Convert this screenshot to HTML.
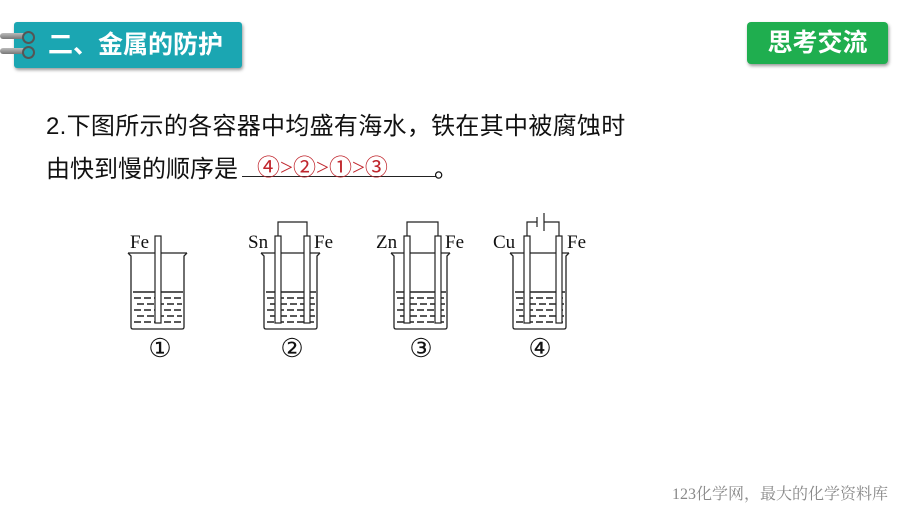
<!DOCTYPE html>
<html><head><meta charset="utf-8"><style>
body{margin:0;width:900px;height:506px;background:#fff;position:relative;overflow:hidden;font-family:"Liberation Sans","Noto Sans CJK SC",sans-serif}
.hd{position:absolute;left:14px;top:22px;width:228px;height:46px;background:#1ba6b2;border-radius:3px;box-shadow:1px 2px 3px #999;color:#fff;font-size:25px;font-weight:bold;line-height:46px;padding-left:34px;box-sizing:border-box}
.ring{position:absolute;height:6px;width:26px;background:linear-gradient(#bbb,#777);border-radius:3px;left:0}
.gr{position:absolute;left:747px;top:22px;width:141px;height:42px;background:#1fae4f;border-radius:4px;box-shadow:1px 2px 3px #999;color:#fff;font-size:25px;font-weight:bold;line-height:42px;text-align:center}
.t{position:absolute;left:46px;font-size:24px;color:#111;white-space:nowrap}
</style></head><body>
<div class="hd">二、金属的防护</div>
<div class="ring" style="top:33px"></div><div class="ring" style="top:48px"></div>
<div style="position:absolute;left:22px;top:31px;width:9px;height:9px;border-radius:50%;border:2px solid #555;background:#1ba6b2"></div>
<div style="position:absolute;left:22px;top:46px;width:9px;height:9px;border-radius:50%;border:2px solid #555;background:#1ba6b2"></div>
<div class="gr">思考交流</div>
<div class="t" style="top:106px;letter-spacing:0.3px">2.下图所示的各容器中均盛有海水，铁在其中被腐蚀时</div>
<div class="t" style="top:149px">由快到慢的顺序是</div>
<div style="position:absolute;left:242px;top:176px;width:194px;height:1px;background:#222"></div>
<div style="position:absolute;left:257px;top:148px;font-size:23px;color:#c0262d;font-family:'Liberation Serif','Noto Sans CJK SC',serif">④&gt;②&gt;①&gt;③</div>
<div class="t" style="left:434px;top:149px">。</div>
<svg style="position:absolute;left:0;top:0" width="900" height="506" font-family="Liberation Serif,serif" font-size="19">
<defs>
<g id="bk" fill="none" stroke="#222" stroke-width="1.3">
<path d="M0 253 L3 256 L3 327 Q3 329 5 329 L54 329 Q56 329 56 327 L56 256 L59 253"/>
<line x1="0" y1="253" x2="59" y2="253"/>
<g stroke-dasharray="7 3" stroke-width="1.5"><line x1="5" y1="292" x2="55" y2="292" stroke-dasharray="none"/>
<line x1="6" y1="298" x2="54" y2="298"/><line x1="9" y1="304" x2="54" y2="304"/><line x1="6" y1="310" x2="54" y2="310"/><line x1="9" y1="316" x2="54" y2="316"/><line x1="6" y1="322" x2="54" y2="322"/></g>
</g></defs>
<g><use href="#bk" x="128"/><use href="#bk" x="261"/><use href="#bk" x="391"/><use href="#bk" x="510"/></g>
<g fill="#fff" stroke="#222" stroke-width="1.2">
<rect x="155" y="236" width="6" height="87"/>
<rect x="275" y="236" width="6" height="87"/><rect x="304" y="236" width="6" height="87"/>
<rect x="404" y="236" width="6" height="87"/><rect x="435" y="236" width="6" height="87"/>
<rect x="524" y="236" width="6" height="87"/><rect x="556" y="236" width="6" height="87"/>
</g>
<g fill="none" stroke="#222" stroke-width="1.2">
<path d="M278 236 V222 H307 V236"/><path d="M407 236 V222 H438 V236"/>
<path d="M527 236 V222 H537 M544 222 H559 V236"/><line x1="537" y1="217" x2="537" y2="227"/><line x1="544" y1="213" x2="544" y2="231"/>
</g>
<g fill="#111">
<text x="130" y="248">Fe</text>
<text x="248" y="248">Sn</text><text x="314" y="248">Fe</text>
<text x="376" y="248">Zn</text><text x="445" y="248">Fe</text>
<text x="493" y="248">Cu</text><text x="567" y="248">Fe</text>
<g font-size="26" text-anchor="middle"><text x="160" y="357">①</text><text x="292" y="357">②</text><text x="421" y="357">③</text><text x="540" y="357">④</text></g>
</g>
</svg>
<div style="position:absolute;left:672px;top:481px;font-size:16px;color:#888;font-family:'Liberation Serif','Noto Serif CJK SC',serif">123化学网，最大的化学资料库</div>
</body></html>
